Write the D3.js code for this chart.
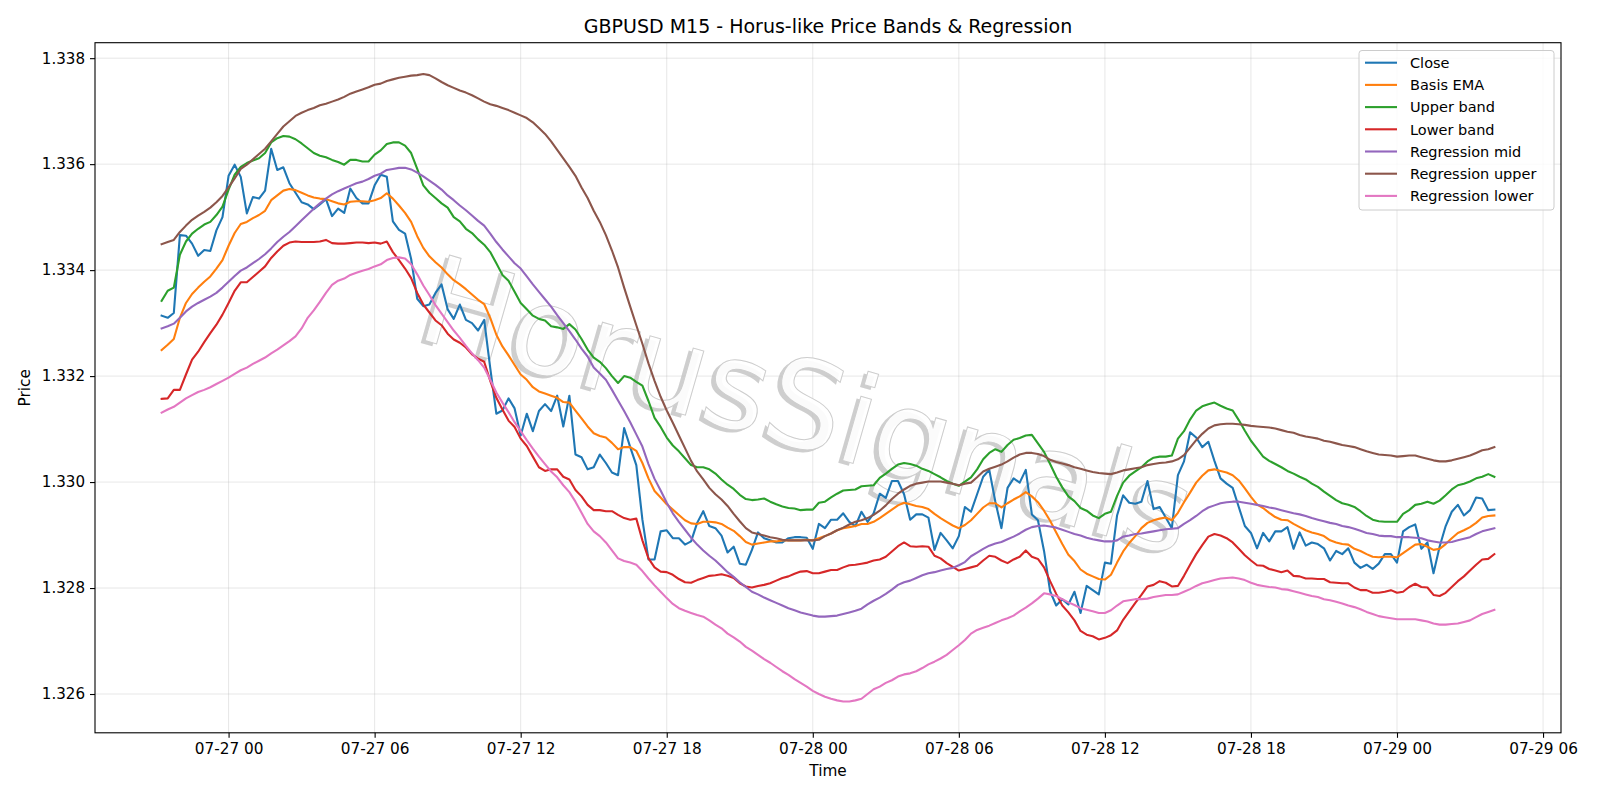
<!DOCTYPE html>
<html><head><meta charset="utf-8">
<script src="https://cdn.jsdelivr.net/npm/d3@7"></script>
<style>body{margin:0;background:#fff}</style>
</head><body><svg id="c" width="1600" height="800"></svg>
<script>
const startTime = "2025-07-26T21:15:00Z";
const barMinutes = 15;
const close = [
1.33314,1.33310,1.33319,1.33466,1.33465,1.33450,1.33427,1.33438,1.33436,1.33475,
1.33500,1.33578,1.33599,1.33576,1.33507,1.33538,1.33535,1.33550,1.33629,1.33589,
1.33594,1.33564,1.33546,1.33528,1.33524,1.33515,1.33524,1.33534,1.33502,1.33516,
1.33508,1.33554,1.33536,1.33526,1.33526,1.33560,1.33580,1.33576,1.33492,1.33476,
1.33469,1.33421,1.33346,1.33332,1.33335,1.33357,1.33373,1.33326,1.33308,1.33335,
1.33306,1.33300,1.33286,1.33306,1.33215,1.33129,1.33135,1.33158,1.33139,1.33088,
1.33129,1.33096,1.33134,1.33147,1.33134,1.33163,1.33105,1.33163,1.33052,1.33047,
1.33024,1.33028,1.33052,1.33036,1.33018,1.33013,1.33102,1.33066,1.33032,1.32929,
1.32854,1.32854,1.32907,1.32909,1.32894,1.32894,1.32882,1.32888,1.32923,1.32945,
1.32917,1.32913,1.32899,1.32867,1.32878,1.32846,1.32844,1.32872,1.32905,1.32894,
1.32890,1.32886,1.32886,1.32894,1.32896,1.32896,1.32895,1.32874,1.32921,1.32913,
1.32929,1.32929,1.32941,1.32925,1.32917,1.32944,1.32925,1.32941,1.32978,1.32970,
1.33002,1.33002,1.32977,1.32929,1.32939,1.32939,1.32933,1.32872,1.32904,1.32890,
1.32875,1.32898,1.32953,1.32944,1.32977,1.33010,1.33023,1.32963,1.32913,1.32989,
1.33007,1.32999,1.33023,1.32939,1.32928,1.32870,1.32794,1.32767,1.32779,1.32769,
1.32793,1.32753,1.32804,1.32796,1.32788,1.32848,1.32846,1.32937,1.32975,1.32961,
1.32959,1.32963,1.33002,1.32949,1.32953,1.32933,1.32913,1.33013,1.33039,1.33094,
1.33084,1.33066,1.33076,1.33040,1.33007,1.32997,1.32989,1.32953,1.32917,1.32904,
1.32875,1.32904,1.32888,1.32907,1.32907,1.32915,1.32874,1.32905,1.32880,1.32886,
1.32883,1.32875,1.32852,1.32870,1.32864,1.32875,1.32848,1.32838,1.32844,1.32836,
1.32846,1.32864,1.32864,1.32848,1.32907,1.32915,1.32920,1.32874,1.32886,1.32828,
1.32878,1.32917,1.32944,1.32957,1.32937,1.32947,1.32971,1.32969,1.32947,1.32948];
const basisEma = [
1.33249,1.33259,1.33270,1.33310,1.33338,1.33355,1.33367,1.33378,1.33388,1.33403,
1.33419,1.33446,1.33470,1.33487,1.33491,1.33498,1.33504,1.33512,1.33532,1.33541,
1.33550,1.33553,1.33551,1.33546,1.33541,1.33537,1.33535,1.33534,1.33530,1.33526,
1.33524,1.33529,1.33530,1.33530,1.33529,1.33532,1.33536,1.33545,1.33535,1.33522,
1.33508,1.33491,1.33464,1.33442,1.33426,1.33415,1.33405,1.33392,1.33381,1.33373,
1.33364,1.33354,1.33344,1.33336,1.33310,1.33278,1.33256,1.33239,1.33221,1.33203,
1.33193,1.33179,1.33171,1.33167,1.33163,1.33159,1.33151,1.33150,1.33135,1.33120,
1.33105,1.33092,1.33087,1.33084,1.33074,1.33062,1.33066,1.33066,1.33059,1.33036,
1.33007,1.32983,1.32971,1.32958,1.32948,1.32938,1.32928,1.32922,1.32921,1.32925,
1.32925,1.32924,1.32921,1.32914,1.32908,1.32898,1.32887,1.32882,1.32884,1.32886,
1.32888,1.32888,1.32890,1.32890,1.32890,1.32890,1.32891,1.32890,1.32894,1.32898,
1.32903,1.32909,1.32913,1.32915,1.32917,1.32921,1.32921,1.32925,1.32932,1.32940,
1.32948,1.32956,1.32961,1.32958,1.32955,1.32953,1.32949,1.32940,1.32932,1.32925,
1.32918,1.32913,1.32919,1.32928,1.32940,1.32952,1.32960,1.32960,1.32952,1.32960,
1.32967,1.32973,1.32981,1.32973,1.32962,1.32946,1.32927,1.32905,1.32883,1.32863,
1.32851,1.32835,1.32827,1.32822,1.32817,1.32816,1.32825,1.32848,1.32869,1.32885,
1.32898,1.32913,1.32923,1.32928,1.32931,1.32933,1.32928,1.32942,1.32962,1.32980,
1.32999,1.33012,1.33022,1.33024,1.33021,1.33018,1.33013,1.33003,1.32988,1.32972,
1.32958,1.32951,1.32942,1.32934,1.32929,1.32928,1.32921,1.32915,1.32909,1.32905,
1.32902,1.32898,1.32890,1.32886,1.32883,1.32882,1.32874,1.32870,1.32864,1.32859,
1.32858,1.32859,1.32859,1.32858,1.32866,1.32874,1.32882,1.32883,1.32878,1.32872,
1.32874,1.32883,1.32894,1.32904,1.32909,1.32915,1.32923,1.32933,1.32936,1.32937];
const upperBand = [
1.33342,1.33361,1.33367,1.33429,1.33454,1.33469,1.33478,1.33486,1.33491,1.33504,
1.33520,1.33552,1.33580,1.33595,1.33602,1.33607,1.33611,1.33621,1.33641,1.33649,
1.33653,1.33652,1.33647,1.33639,1.33630,1.33621,1.33616,1.33613,1.33608,1.33604,
1.33599,1.33608,1.33608,1.33605,1.33605,1.33618,1.33626,1.33638,1.33641,1.33641,
1.33635,1.33621,1.33591,1.33560,1.33546,1.33536,1.33526,1.33518,1.33500,1.33492,
1.33478,1.33470,1.33458,1.33448,1.33434,1.33413,1.33391,1.33380,1.33359,1.33338,
1.33326,1.33314,1.33308,1.33305,1.33294,1.33292,1.33289,1.33298,1.33288,1.33270,
1.33250,1.33235,1.33227,1.33215,1.33200,1.33187,1.33200,1.33197,1.33189,1.33182,
1.33153,1.33121,1.33104,1.33084,1.33069,1.33058,1.33045,1.33032,1.33028,1.33028,
1.33024,1.33016,1.33005,1.32995,1.32987,1.32976,1.32968,1.32966,1.32967,1.32969,
1.32963,1.32958,1.32954,1.32951,1.32950,1.32947,1.32948,1.32948,1.32961,1.32963,
1.32971,1.32978,1.32984,1.32985,1.32986,1.32992,1.32993,1.32994,1.33008,1.33016,
1.33025,1.33033,1.33036,1.33034,1.33031,1.33025,1.33021,1.33015,1.33009,1.33002,
1.32997,1.32993,1.33001,1.33009,1.33024,1.33043,1.33055,1.33062,1.33057,1.33070,
1.33080,1.33083,1.33088,1.33089,1.33073,1.33057,1.33034,1.33010,1.32990,1.32973,
1.32964,1.32951,1.32946,1.32937,1.32932,1.32940,1.32944,1.32974,1.32999,1.33012,
1.33020,1.33028,1.33039,1.33046,1.33048,1.33048,1.33050,1.33082,1.33096,1.33118,
1.33135,1.33143,1.33147,1.33150,1.33144,1.33139,1.33135,1.33117,1.33097,1.33078,
1.33063,1.33048,1.33040,1.33034,1.33028,1.33021,1.33016,1.33010,1.33005,1.32997,
1.32991,1.32982,1.32974,1.32966,1.32960,1.32957,1.32953,1.32945,1.32936,1.32929,
1.32926,1.32925,1.32925,1.32925,1.32940,1.32947,1.32957,1.32959,1.32963,1.32959,
1.32965,1.32975,1.32986,1.32994,1.32997,1.33001,1.33007,1.33010,1.33015,1.33010];
const lowerBand = [
1.33157,1.33158,1.33174,1.33174,1.33203,1.33231,1.33246,1.33264,1.33281,1.33297,
1.33316,1.33338,1.33361,1.33377,1.33377,1.33387,1.33397,1.33407,1.33423,1.33435,
1.33446,1.33452,1.33454,1.33453,1.33453,1.33453,1.33454,1.33457,1.33451,1.33450,
1.33450,1.33451,1.33452,1.33452,1.33451,1.33452,1.33450,1.33454,1.33434,1.33419,
1.33403,1.33385,1.33357,1.33335,1.33320,1.33305,1.33296,1.33280,1.33269,1.33263,
1.33254,1.33241,1.33233,1.33227,1.33191,1.33159,1.33137,1.33116,1.33104,1.33082,
1.33068,1.33048,1.33028,1.33021,1.33024,1.33024,1.33010,1.33005,1.32985,1.32973,
1.32957,1.32947,1.32947,1.32945,1.32945,1.32938,1.32932,1.32929,1.32931,1.32890,
1.32856,1.32839,1.32831,1.32830,1.32825,1.32817,1.32811,1.32810,1.32815,1.32819,
1.32823,1.32824,1.32826,1.32823,1.32819,1.32809,1.32803,1.32801,1.32804,1.32806,
1.32809,1.32814,1.32819,1.32822,1.32827,1.32831,1.32832,1.32828,1.32828,1.32831,
1.32834,1.32834,1.32839,1.32843,1.32844,1.32846,1.32848,1.32852,1.32854,1.32859,
1.32869,1.32879,1.32886,1.32879,1.32878,1.32879,1.32878,1.32861,1.32856,1.32847,
1.32840,1.32833,1.32836,1.32839,1.32842,1.32852,1.32861,1.32859,1.32852,1.32847,
1.32854,1.32859,1.32871,1.32859,1.32855,1.32839,1.32813,1.32789,1.32767,1.32754,
1.32739,1.32719,1.32712,1.32709,1.32703,1.32706,1.32711,1.32720,1.32740,1.32756,
1.32772,1.32787,1.32803,1.32806,1.32813,1.32810,1.32803,1.32804,1.32823,1.32844,
1.32864,1.32881,1.32897,1.32902,1.32899,1.32894,1.32886,1.32874,1.32862,1.32852,
1.32843,1.32842,1.32836,1.32833,1.32830,1.32833,1.32823,1.32822,1.32818,1.32818,
1.32817,1.32817,1.32811,1.32810,1.32809,1.32809,1.32801,1.32796,1.32796,1.32791,
1.32791,1.32793,1.32796,1.32791,1.32793,1.32802,1.32808,1.32802,1.32801,1.32787,
1.32785,1.32791,1.32802,1.32813,1.32822,1.32833,1.32844,1.32854,1.32855,1.32864];
const regressionMid = [
1.33290,1.33294,1.33299,1.33310,1.33322,1.33331,1.33338,1.33344,1.33350,1.33357,
1.33367,1.33378,1.33389,1.33399,1.33405,1.33413,1.33421,1.33430,1.33441,1.33453,
1.33463,1.33472,1.33483,1.33494,1.33505,1.33516,1.33526,1.33535,1.33543,1.33549,
1.33554,1.33559,1.33564,1.33567,1.33572,1.33578,1.33582,1.33589,1.33591,1.33593,
1.33593,1.33590,1.33584,1.33577,1.33569,1.33561,1.33552,1.33541,1.33532,1.33522,
1.33513,1.33503,1.33493,1.33484,1.33469,1.33453,1.33439,1.33426,1.33413,1.33403,
1.33388,1.33373,1.33359,1.33345,1.33331,1.33315,1.33300,1.33285,1.33269,1.33252,
1.33237,1.33216,1.33205,1.33193,1.33174,1.33154,1.33134,1.33113,1.33090,1.33067,
1.33034,1.33006,1.32984,1.32961,1.32941,1.32925,1.32910,1.32895,1.32882,1.32871,
1.32861,1.32852,1.32841,1.32830,1.32821,1.32811,1.32802,1.32793,1.32788,1.32782,
1.32777,1.32772,1.32767,1.32762,1.32758,1.32754,1.32751,1.32748,1.32746,1.32746,
1.32747,1.32748,1.32751,1.32754,1.32757,1.32761,1.32769,1.32776,1.32782,1.32789,
1.32797,1.32806,1.32811,1.32814,1.32819,1.32824,1.32828,1.32830,1.32833,1.32836,
1.32838,1.32843,1.32849,1.32860,1.32867,1.32874,1.32880,1.32884,1.32887,1.32892,
1.32897,1.32903,1.32910,1.32915,1.32917,1.32918,1.32916,1.32914,1.32910,1.32906,
1.32902,1.32899,1.32895,1.32892,1.32890,1.32888,1.32888,1.32890,1.32897,1.32899,
1.32902,1.32903,1.32905,1.32907,1.32909,1.32911,1.32912,1.32913,1.32921,1.32928,
1.32936,1.32945,1.32952,1.32956,1.32960,1.32962,1.32963,1.32963,1.32961,1.32959,
1.32957,1.32955,1.32952,1.32950,1.32947,1.32944,1.32941,1.32939,1.32936,1.32932,
1.32929,1.32926,1.32923,1.32921,1.32917,1.32915,1.32912,1.32908,1.32904,1.32902,
1.32899,1.32898,1.32898,1.32896,1.32896,1.32896,1.32895,1.32894,1.32890,1.32888,
1.32886,1.32886,1.32887,1.32890,1.32893,1.32896,1.32902,1.32907,1.32910,1.32913];
const regressionUpper = [
1.33449,1.33453,1.33457,1.33472,1.33484,1.33495,1.33503,1.33510,1.33518,1.33528,
1.33540,1.33556,1.33573,1.33591,1.33599,1.33609,1.33619,1.33629,1.33643,1.33657,
1.33671,1.33681,1.33691,1.33697,1.33702,1.33706,1.33711,1.33714,1.33718,1.33722,
1.33727,1.33733,1.33737,1.33741,1.33745,1.33750,1.33752,1.33757,1.33760,1.33763,
1.33765,1.33767,1.33768,1.33770,1.33768,1.33762,1.33755,1.33749,1.33744,1.33739,
1.33735,1.33730,1.33724,1.33718,1.33713,1.33710,1.33706,1.33702,1.33697,1.33692,
1.33687,1.33679,1.33668,1.33657,1.33643,1.33627,1.33611,1.33595,1.33578,1.33556,
1.33536,1.33512,1.33491,1.33466,1.33437,1.33405,1.33367,1.33331,1.33296,1.33261,
1.33224,1.33191,1.33161,1.33135,1.33112,1.33088,1.33064,1.33040,1.33020,1.33005,
1.32989,1.32977,1.32967,1.32955,1.32940,1.32926,1.32913,1.32905,1.32902,1.32899,
1.32896,1.32894,1.32891,1.32890,1.32890,1.32890,1.32890,1.32890,1.32891,1.32898,
1.32903,1.32909,1.32914,1.32920,1.32925,1.32928,1.32932,1.32938,1.32946,1.32956,
1.32968,1.32978,1.32986,1.32993,1.32997,1.32999,1.33001,1.33001,1.33001,1.32999,
1.32997,1.32994,1.32997,1.32999,1.33009,1.33020,1.33025,1.33029,1.33033,1.33039,
1.33046,1.33052,1.33055,1.33055,1.33053,1.33049,1.33042,1.33038,1.33035,1.33032,
1.33028,1.33025,1.33022,1.33019,1.33017,1.33016,1.33015,1.33018,1.33022,1.33024,
1.33026,1.33028,1.33032,1.33034,1.33036,1.33037,1.33039,1.33043,1.33051,1.33065,
1.33079,1.33091,1.33101,1.33107,1.33109,1.33110,1.33110,1.33109,1.33108,1.33106,
1.33105,1.33104,1.33103,1.33101,1.33098,1.33095,1.33093,1.33089,1.33086,1.33084,
1.33082,1.33078,1.33076,1.33073,1.33070,1.33068,1.33066,1.33062,1.33058,1.33055,
1.33052,1.33051,1.33050,1.33048,1.33049,1.33050,1.33050,1.33047,1.33044,1.33041,
1.33039,1.33039,1.33041,1.33044,1.33047,1.33050,1.33055,1.33060,1.33062,1.33066];
const regressionLower = [
1.33131,1.33137,1.33142,1.33150,1.33158,1.33164,1.33170,1.33174,1.33179,1.33185,
1.33191,1.33197,1.33204,1.33211,1.33216,1.33223,1.33229,1.33235,1.33243,1.33250,
1.33258,1.33266,1.33275,1.33290,1.33310,1.33324,1.33340,1.33357,1.33372,1.33380,
1.33384,1.33391,1.33395,1.33399,1.33402,1.33407,1.33411,1.33419,1.33423,1.33424,
1.33422,1.33411,1.33392,1.33371,1.33353,1.33334,1.33318,1.33302,1.33286,1.33272,
1.33257,1.33243,1.33230,1.33216,1.33193,1.33169,1.33150,1.33132,1.33113,1.33096,
1.33079,1.33063,1.33048,1.33034,1.33020,1.33009,1.32994,1.32981,1.32963,1.32942,
1.32921,1.32907,1.32898,1.32886,1.32871,1.32856,1.32851,1.32848,1.32844,1.32832,
1.32818,1.32805,1.32793,1.32781,1.32770,1.32762,1.32757,1.32753,1.32749,1.32746,
1.32739,1.32731,1.32724,1.32714,1.32707,1.32699,1.32689,1.32682,1.32674,1.32666,
1.32659,1.32651,1.32643,1.32636,1.32628,1.32621,1.32614,1.32606,1.32600,1.32595,
1.32591,1.32588,1.32586,1.32586,1.32588,1.32591,1.32600,1.32609,1.32614,1.32621,
1.32626,1.32633,1.32637,1.32639,1.32643,1.32649,1.32656,1.32661,1.32667,1.32674,
1.32683,1.32692,1.32702,1.32714,1.32721,1.32725,1.32729,1.32734,1.32739,1.32743,
1.32748,1.32756,1.32763,1.32771,1.32780,1.32790,1.32788,1.32785,1.32779,1.32773,
1.32768,1.32762,1.32759,1.32756,1.32753,1.32753,1.32758,1.32767,1.32775,1.32777,
1.32779,1.32779,1.32780,1.32783,1.32785,1.32787,1.32787,1.32788,1.32793,1.32798,
1.32804,1.32809,1.32812,1.32815,1.32818,1.32819,1.32820,1.32818,1.32815,1.32810,
1.32806,1.32804,1.32802,1.32801,1.32798,1.32797,1.32794,1.32791,1.32788,1.32785,
1.32783,1.32779,1.32777,1.32774,1.32771,1.32767,1.32764,1.32760,1.32755,1.32751,
1.32747,1.32745,1.32743,1.32741,1.32741,1.32741,1.32741,1.32739,1.32737,1.32733,
1.32731,1.32731,1.32732,1.32733,1.32736,1.32739,1.32745,1.32751,1.32755,1.32759];

const seriesNames = ["Close","Basis EMA","Upper band","Lower band","Regression mid","Regression upper","Regression lower"];
const seriesColors = ["#1f77b4","#ff7f0e","#2ca02c","#d62728","#9467bd","#8c564b","#e377c2"];
const seriesValues = [close, basisEma, upperBand, lowerBand, regressionMid, regressionUpper, regressionLower];
const xTickTimes = ["2025-07-27T00:00Z","2025-07-27T06:00Z","2025-07-27T12:00Z","2025-07-27T18:00Z","2025-07-28T00:00Z","2025-07-28T06:00Z","2025-07-28T12:00Z","2025-07-28T18:00Z","2025-07-29T00:00Z","2025-07-29T06:00Z"];
const yTickValues = [1.326,1.328,1.330,1.332,1.334,1.336,1.338];
const titleText = "GBPUSD M15 - Horus-like Price Bands & Regression";
const watermarkText = "HorusSignals";

const FONT = "'DejaVu Sans', sans-serif";
const L = 95, R = 1561, T = 42.7, B = 732.8;
const svg = d3.select("#c");
svg.append("rect").attr("width",1600).attr("height",800).attr("fill","#fff");

const t0 = Date.parse(startTime);
const times = close.map((_, i) => new Date(t0 + i * barMinutes * 60000));
const span = times[times.length-1] - times[0];
const x = d3.scaleUtc()
  .domain([new Date(+times[0] - 0.05*span), new Date(+times[times.length-1] + 0.05*span)])
  .range([L, R]);
const allVals = seriesValues.flat();
const lo = d3.min(allVals), hi = d3.max(allVals), pad = (hi - lo) * 0.05;
const y = d3.scaleLinear().domain([lo - pad, hi + pad]).range([B, T]);
const xTicks = xTickTimes.map(s => new Date(s));

// grid
const grid = svg.append("g");
grid.selectAll(".gx").data(xTicks).join("line")
  .attr("x1", d => x(d)).attr("x2", d => x(d)).attr("y1", T).attr("y2", B)
  .attr("stroke", "#b0b0b0").attr("stroke-opacity", 0.3).attr("stroke-width", 1);
grid.selectAll(".gy").data(yTickValues).join("line")
  .attr("y1", d => y(d)).attr("y2", d => y(d)).attr("x1", L).attr("x2", R)
  .attr("stroke", "#b0b0b0").attr("stroke-opacity", 0.3).attr("stroke-width", 1);

// watermark
const wm = svg.append("g").attr("transform", "translate(796,447) rotate(16)")
  .attr("font-family", FONT).attr("font-size", 122).attr("text-anchor", "middle");
wm.append("text").attr("x", -3.5).attr("y", 3.5).attr("fill", "#c2c2c2").attr("fill-opacity", 0.8).text(watermarkText);
wm.append("text").attr("fill", "#ffffff").attr("fill-opacity", 0.92).attr("stroke", "#cdcdcd").attr("stroke-width", 1).text(watermarkText);

// clip
svg.append("clipPath").attr("id", "clip").append("rect")
  .attr("x", L).attr("y", T).attr("width", R - L).attr("height", B - T);

const plot = svg.append("g").attr("clip-path", "url(#clip)");
seriesValues.forEach((vals, k) => {
  const line = d3.line().x((d, i) => x(times[i])).y(d => y(d));
  plot.append("path").datum(vals).attr("d", line)
    .attr("fill", "none").attr("stroke", seriesColors[k]).attr("stroke-width", 2.1)
    .attr("stroke-linejoin", "round").attr("stroke-linecap", "square");
});

// axes
const xAxis = d3.axisBottom(x).tickValues(xTicks).tickFormat(d3.utcFormat("%m-%d %H")).tickSize(5).tickPadding(5);
const gx = svg.append("g").attr("transform", `translate(0,${B})`).call(xAxis);
gx.select(".domain").remove();
gx.selectAll("text").attr("font-family", FONT).attr("font-size", 15.3).attr("fill", "#000");
gx.selectAll("line").attr("stroke", "#000").attr("stroke-width", 1.1);

const yAxis = d3.axisLeft(y).tickValues(yTickValues).tickFormat(d3.format(".3f")).tickSize(5).tickPadding(5);
const gy = svg.append("g").attr("transform", `translate(${L},0)`).call(yAxis);
gy.select(".domain").remove();
gy.selectAll("text").attr("font-family", FONT).attr("font-size", 15.1).attr("fill", "#000");
gy.selectAll("line").attr("stroke", "#000").attr("stroke-width", 1.1);

svg.append("rect").attr("x", L).attr("y", T).attr("width", R - L).attr("height", B - T)
  .attr("fill", "none").attr("stroke", "#000").attr("stroke-width", 1.1);

// labels
svg.append("text").attr("x", (L + R) / 2).attr("y", 32.5).attr("text-anchor", "middle")
  .attr("font-family", FONT).attr("font-size", 19).text(titleText);
svg.append("text").attr("x", (L + R) / 2).attr("y", 776).attr("text-anchor", "middle")
  .attr("font-family", FONT).attr("font-size", 15.3).text("Time");
svg.append("text").attr("transform", `translate(30,${(T + B) / 2}) rotate(-90)`).attr("text-anchor", "middle")
  .attr("font-family", FONT).attr("font-size", 15.3).text("Price");

// legend
const lg = svg.append("g");
lg.append("rect").attr("x", 1359).attr("y", 50.5).attr("width", 195).attr("height", 159.5).attr("rx", 3)
  .attr("fill", "#fff").attr("fill-opacity", 0.8).attr("stroke", "#cccccc").attr("stroke-width", 1);
seriesNames.forEach((name, k) => {
  const cy = 62.7 + k * 22.2;
  lg.append("line").attr("x1", 1365).attr("x2", 1397).attr("y1", cy).attr("y2", cy)
    .attr("stroke", seriesColors[k]).attr("stroke-width", 2.1);
  lg.append("text").attr("x", 1410).attr("y", cy).attr("dy", "0.36em")
    .attr("font-family", FONT).attr("font-size", 14.5).text(name);
});
</script></body></html>
